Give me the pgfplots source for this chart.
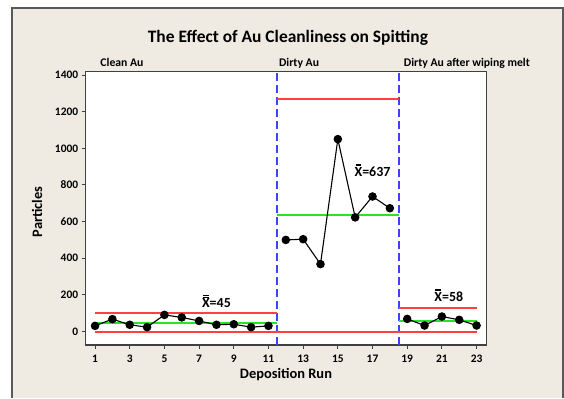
\documentclass[border=0pt]{standalone}
\usepackage{fontspec}
\setmainfont{Carlito}
\usepackage{pgfplots}
\pgfplotsset{compat=1.18}
\usetikzlibrary{backgrounds}
\definecolor{bgbeige}{rgb}{0.937,0.922,0.886}
\definecolor{framegray}{rgb}{0.35,0.35,0.35}
\definecolor{uclred}{rgb}{1,0.25,0.25}
\definecolor{meangreen}{rgb}{0.15,0.9,0.15}
\definecolor{stageblue}{rgb}{0.25,0.25,1}
\newcommand{\xbb}{\leavevmode\vbox{\offinterlineskip\halign{\hfil##\hfil\cr\rule{0.42em}{0.06em}\cr\noalign{\kern0.06em}\rule{0.42em}{0.06em}\cr\noalign{\kern0.08em}X\cr}}}
\begin{document}
\begin{tikzpicture}[x=1bp,y=1bp]
\begin{axis}[
  at={(85.7bp,48bp)}, anchor=south west,
  scale only axis, width=401bp, height=273.3bp,
  xmin=0.46, xmax=23.58, ymin=-73, ymax=1418,
  axis background/.style={fill=white},
  axis line style={draw=black!75, line width=1.2bp},
  xtick={1,3,...,23}, ytick={0,200,...,1400},
  tick align=outside, major tick length=4bp,
  tick style={draw=black!75, line width=0.9bp},
  xtick pos=bottom, ytick pos=left,
  /pgf/number format/assume math mode=true,
  tick label style={font=\bfseries\fontsize{11.5}{13}\selectfont},
  xticklabel style={yshift=-3bp},
  yticklabel style={/pgf/number format/1000 sep={}},
  clip=false,
]
% stage dividers
\addplot[color=stageblue, line width=2bp, dash pattern=on 8bp off 4bp] coordinates {(11.5,-73) (11.5,1418)};
\addplot[color=stageblue, line width=2bp, dash pattern=on 8bp off 4bp] coordinates {(18.5,-73) (18.5,1418)};
% control limits
\addplot[color=uclred, line width=2bp] coordinates {(1,104) (11.5,104)};
\addplot[color=uclred, line width=2bp] coordinates {(11.5,1270) (18.5,1270)};
\addplot[color=uclred, line width=2bp] coordinates {(18.5,129) (23,129)};
\addplot[color=uclred, line width=2bp] coordinates {(1,0) (23,0)};
% means
\addplot[color=meangreen, line width=2bp] coordinates {(1,45) (11.5,45)};
\addplot[color=meangreen, line width=2bp] coordinates {(11.5,637) (18.5,637)};
\addplot[color=meangreen, line width=2bp] coordinates {(18.5,58) (23,58)};
% data
\addplot[color=black, line width=1.1bp, mark=*, mark size=3.7bp] coordinates {
(1,31) (2,68) (3,37) (4,24) (5,91) (6,77) (7,58) (8,37) (9,40) (10,24) (11,31)};
\addplot[color=black, line width=1.1bp, mark=*, mark size=3.7bp] coordinates {
(12,500) (13,504) (14,368) (15,1050) (16,623) (17,737) (18,673)};
\addplot[color=black, line width=1.1bp, mark=*, mark size=3.7bp] coordinates {
(19,69) (20,33) (21,82) (22,64) (23,33)};
% labels
\node[font=\bfseries\fontsize{14}{16}\selectfont] at (axis cs:8.0,164) {\xbb=45};
\node[font=\bfseries\fontsize{14}{16}\selectfont] at (axis cs:17.0,882) {\xbb=637};
\node[font=\bfseries\fontsize{14}{16}\selectfont] at (axis cs:21.4,200) {\xbb=58};
\node[font=\bfseries\fontsize{11.75}{13}\selectfont, anchor=base west, inner sep=0pt] at (axis cs:1.3,1418) [yshift=5bp] {Clean Au};
\node[font=\bfseries\fontsize{11.75}{13}\selectfont, anchor=base west, inner sep=0pt] at (axis cs:11.6,1418) [yshift=5bp] {Dirty Au};
\node[font=\bfseries\fontsize{11.75}{13}\selectfont, anchor=base west, inner sep=0pt] at (axis cs:18.8,1418) [yshift=5bp] {Dirty Au after wiping melt};
\end{axis}
\node[font=\bfseries\fontsize{17.5}{20}\selectfont] at (288,355) {The Effect of Au Cleanliness on Spitting};
\node[font=\bfseries\fontsize{14.5}{16}\selectfont, rotate=90] at (37,181) {Particles};
\node[font=\bfseries\fontsize{14.5}{16}\selectfont] at (286,18) {Deposition Run};
\begin{scope}[on background layer]
\fill[white] (0,0) rectangle (564,393);
\fill[bgbeige] (12.3,-5) rectangle (563.3,385);
\draw[framegray, line width=1.6bp] (12.3,-5) -- (12.3,385) -- (563.3,385) -- (563.3,-5);
\end{scope}
\useasboundingbox (0,0) rectangle (564,393);
\end{tikzpicture}
\end{document}
